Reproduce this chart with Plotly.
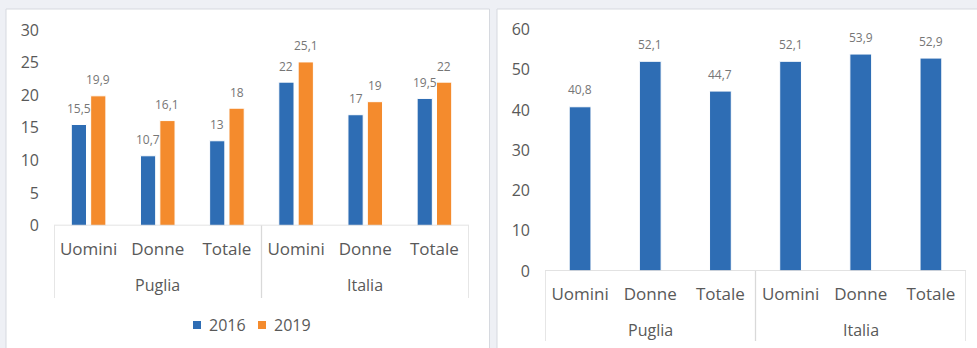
import plotly.graph_objects as go

# Data
categories = ["Uomini", "Donne", "Totale", "Uomini", "Donne", "Totale"]
groups = ["Puglia", "Italia"]
series_names = ["2016", "2019"]
values_2016 = [15.5, 10.7, 13, 22, 17, 19.5]
values_2019 = [19.9, 16.1, 18, 25.1, 19, 22]
values_right = [40.8, 52.1, 44.7, 52.1, 53.9, 52.9]
left_ticks = [0, 5, 10, 15, 20, 25, 30]
right_ticks = [0, 10, 20, 30, 40, 50, 60]

W, H = 977, 348
BLUE = "#2E6DB4"
ORANGE = "#F48B2D"
GREY_TXT = "#595959"
LABEL_TXT = "#767676"
LINE = "#d9d9d9"
FONT = "Open Sans"


def px_x(p):
    return p / W


def px_y(p):
    return 1 - p / H


def fmt(v):
    return f"{v:g}".replace(".", ",")


xpos = list(range(len(categories)))

fig = go.Figure()

# Left chart: grouped bars 2016 / 2019
bw_l = 0.22
gap_l = 0.06
fig.add_trace(go.Bar(x=xpos, y=values_2016, name=series_names[0], width=bw_l,
                     offset=-gap_l / 2 - bw_l, marker=dict(color=BLUE, line=dict(color="white", width=1)),
                     xaxis="x", yaxis="y", showlegend=False, hoverinfo="skip"))
fig.add_trace(go.Bar(x=xpos, y=values_2019, name=series_names[1], width=bw_l,
                     offset=gap_l / 2, marker=dict(color=ORANGE, line=dict(color="white", width=1)),
                     xaxis="x", yaxis="y", showlegend=False, hoverinfo="skip"))

# Right chart: single series
bw_r = 0.31
fig.add_trace(go.Bar(x=xpos, y=values_right, width=bw_r, offset=-bw_r / 2,
                     marker=dict(color=BLUE, line=dict(color="white", width=1)),
                     xaxis="x2", yaxis="y2", showlegend=False, hoverinfo="skip"))

annotations = []
label_font = dict(size=12, color=LABEL_TXT, family=FONT)
for i, v in enumerate(values_2016):
    annotations.append(dict(x=i - gap_l / 2 - bw_l / 2, y=v, xref="x", yref="y", text=fmt(v),
                            showarrow=False, yshift=16, font=label_font))
for i, v in enumerate(values_2019):
    annotations.append(dict(x=i + gap_l / 2 + bw_l / 2, y=v, xref="x", yref="y", text=fmt(v),
                            showarrow=False, yshift=16, font=label_font))
for i, v in enumerate(values_right):
    annotations.append(dict(x=i, y=v, xref="x2", yref="y2", text=fmt(v),
                            showarrow=False, yshift=17, font=label_font))

# Group labels under the category labels
group_font = dict(size=16, color=GREY_TXT, family=FONT)
for g_idx, g in enumerate(groups):
    annotations.append(dict(x=g_idx * 3 + 1, y=px_y(285), xref="x", yref="paper", text=g,
                            showarrow=False, yanchor="middle", font=group_font))
    annotations.append(dict(x=g_idx * 3 + 1, y=px_y(330), xref="x2", yref="paper", text=g,
                            showarrow=False, yanchor="middle", font=group_font))

shapes = [
    # panel cards
    dict(type="rect", xref="paper", yref="paper", x0=px_x(6), x1=px_x(489.5), y0=px_y(360), y1=px_y(9),
         line=dict(color="#d6d9df", width=1), fillcolor="white", layer="below"),
    dict(type="rect", xref="paper", yref="paper", x0=px_x(497), x1=px_x(990), y0=px_y(360), y1=px_y(9),
         line=dict(color="#d6d9df", width=1), fillcolor="white", layer="below"),
]

# Legend under the left chart: small swatch + series name
legend_items = [(series_names[0], BLUE, 193), (series_names[1], ORANGE, 258)]
for name, color, sx in legend_items:
    shapes.append(dict(type="rect", xref="paper", yref="paper",
                       x0=px_x(sx), x1=px_x(sx + 8), y0=px_y(329), y1=px_y(321),
                       line=dict(width=0), fillcolor=color))
    annotations.append(dict(x=px_x(sx + 14), y=px_y(325), xref="paper", yref="paper", text=name,
                            showarrow=False, xanchor="left", yanchor="middle", font=group_font))

# category axis boxes and group dividers
for xr, yr, y_top, y_bottom in (("x", "y", 225.5, 298), ("x2", "y2", 271, 341)):
    shapes.append(dict(type="line", xref=xr, yref=yr, x0=-0.5, x1=5.5, y0=0, y1=0,
                       line=dict(color=LINE, width=1.3)))
    for xv in (-0.5, 2.5, 5.5):
        shapes.append(dict(type="line", xref=xr, yref="paper", x0=xv, x1=xv,
                           y0=px_y(y_bottom), y1=px_y(y_top),
                           line=dict(color=LINE, width=1.3)))

axis_common = dict(showgrid=False, zeroline=False, showline=False, fixedrange=True)
xtick_font = dict(size=17, color=GREY_TXT, family=FONT)
ytick_font = dict(size=16, color=GREY_TXT, family=FONT)

fig.update_layout(
    width=W, height=H,
    margin=dict(l=0, r=0, t=0, b=0, autoexpand=False),
    paper_bgcolor="#eef0f5", plot_bgcolor="rgba(0,0,0,0)",
    barmode="overlay",
    showlegend=False,
    font=dict(family=FONT, color=GREY_TXT, size=16),
    xaxis=dict(domain=[px_x(54), px_x(469)], range=[-0.5, 5.5], tickvals=xpos, ticktext=categories,
               ticks="", ticklabelstandoff=11, tickfont=xtick_font, anchor="y", **axis_common),
    yaxis=dict(domain=[px_y(225.5), px_y(30)], range=[0, 30], tickvals=left_ticks,
               ticks="", ticklabelstandoff=14, tickfont=ytick_font, anchor="x", **axis_common),
    xaxis2=dict(domain=[px_x(545), px_x(966)], range=[-0.5, 5.5], tickvals=xpos, ticktext=categories,
                ticks="", ticklabelstandoff=11, tickfont=xtick_font, anchor="y2", **axis_common),
    yaxis2=dict(domain=[px_y(271), px_y(29.5)], range=[0, 60], tickvals=right_ticks,
                ticks="", ticklabelstandoff=14, tickfont=ytick_font, anchor="x2", **axis_common),
    annotations=annotations,
    shapes=shapes,
)

fig.write_html("out.html")
